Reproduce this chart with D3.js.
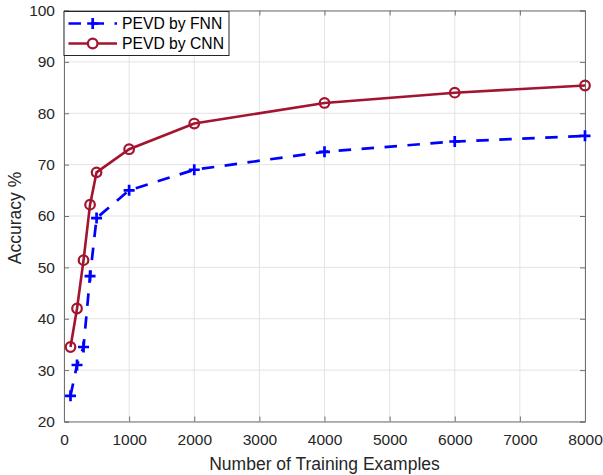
<!DOCTYPE html>
<html>
<head>
<meta charset="utf-8">
<script src="https://cdn.jsdelivr.net/npm/d3@7"></script>
<style>
  body { margin: 0; background: #fff; }
  svg { font-family: "Liberation Sans", Arial, sans-serif; }
</style>
</head>
<body>
<div id="chart"></div>
<script>
// training set sizes and accuracies
const samples = [100, 200, 300, 400, 500, 1000, 2000, 4000, 6000, 8000];
const fnnAcc = [25, 31, 34.5, 48.3, 59.6, 65, 69, 72.5, 74.5, 75.6];
const cnnAcc = [34.5, 42, 51.4, 62.2, 68.5, 73, 78, 82, 84, 85.4];
const xTicks = [0, 1000, 2000, 3000, 4000, 5000, 6000, 7000, 8000];
const yTicks = [20, 30, 40, 50, 60, 70, 80, 90, 100];

const W = 603, H = 475;
const margin = { top: 10.5, right: 18, bottom: 53.5, left: 64 };
const width = W - margin.left - margin.right;
const height = H - margin.top - margin.bottom;

const svg = d3.select('#chart').append('svg')
    .attr('width', W)
    .attr('height', H);

const g = svg.append('g')
    .attr('transform', 'translate(' + margin.left + ',' + margin.top + ')');

const x = d3.scaleLinear().domain([0, 8000]).range([0, width]);
const y = d3.scaleLinear().domain([20, 100]).range([height, 0]);

// grid
g.append('g').selectAll('line').data(xTicks).join('line')
    .attr('x1', d => x(d)).attr('x2', d => x(d))
    .attr('y1', 0).attr('y2', height)
    .attr('stroke', '#e3e3e3').attr('stroke-width', 1);
g.append('g').selectAll('line').data(yTicks).join('line')
    .attr('x1', 0).attr('x2', width)
    .attr('y1', d => y(d)).attr('y2', d => y(d))
    .attr('stroke', '#e3e3e3').attr('stroke-width', 1);

// axes (ticks inward, box on)
const axisColor = '#262626';
const fmt = d3.format('d');
const xAxis = d3.axisBottom(x).tickValues(xTicks).tickSize(-5).tickPadding(12).tickFormat(fmt);
const yAxis = d3.axisLeft(y).tickValues(yTicks).tickSize(-5).tickPadding(9).tickFormat(fmt);

const gx = g.append('g').attr('transform', 'translate(0,' + height + ')').call(xAxis);
const gy = g.append('g').call(yAxis);
const gxTop = g.append('g').call(d3.axisTop(x).tickValues(xTicks).tickSize(-5).tickFormat(''));
const gyRight = g.append('g').attr('transform', 'translate(' + width + ',0)')
    .call(d3.axisRight(y).tickValues(yTicks).tickSize(-5).tickFormat(''));

[gx, gy, gxTop, gyRight].forEach(a => {
    a.select('.domain').attr('stroke', '#707070').attr('stroke-width', 1);
    a.selectAll('.tick line').attr('stroke', '#707070').attr('stroke-width', 1);
    a.selectAll('.tick text').attr('fill', axisColor).style('font-size', '15.5px');
});

// axis labels
svg.append('text')
    .attr('x', margin.left + width / 2)
    .attr('y', 470)
    .attr('text-anchor', 'middle')
    .attr('fill', axisColor)
    .style('font-size', '17.5px')
    .text('Number of Training Examples');

svg.append('text')
    .attr('transform', 'translate(21,' + (margin.top + height / 2 + 2) + ') rotate(-90)')
    .attr('text-anchor', 'middle')
    .attr('fill', axisColor)
    .style('font-size', '17.5px')
    .text('Accuracy %');

// lines
const line = d3.line().x(d => x(d[0])).y(d => y(d[1]));
const fnnData = samples.map((s, i) => [s, fnnAcc[i]]);
const cnnData = samples.map((s, i) => [s, cnnAcc[i]]);

const blue = '#0000ff';
const red = '#a2142f';
const dash = '12.5,10.5';
const plusPath = 'M-5.5,0H5.5M0,-5.5V5.5';

g.append('path').datum(fnnData)
    .attr('d', line)
    .attr('fill', 'none')
    .attr('stroke', blue)
    .attr('stroke-width', 2.7)
    .attr('stroke-dasharray', dash);

g.append('g').selectAll('path').data(fnnData).join('path')
    .attr('transform', d => 'translate(' + x(d[0]) + ',' + y(d[1]) + ')')
    .attr('d', plusPath)
    .attr('stroke', blue)
    .attr('stroke-width', 2.7)
    .attr('fill', 'none');

g.append('path').datum(cnnData)
    .attr('d', line)
    .attr('fill', 'none')
    .attr('stroke', red)
    .attr('stroke-width', 2.6);

g.append('g').selectAll('circle').data(cnnData).join('circle')
    .attr('cx', d => x(d[0]))
    .attr('cy', d => y(d[1]))
    .attr('r', 4.8)
    .attr('fill', 'none')
    .attr('stroke', red)
    .attr('stroke-width', 2.2);

// legend
const legend = svg.append('g').attr('transform', 'translate(64,11.5)');
legend.append('rect')
    .attr('width', 165).attr('height', 44)
    .attr('fill', '#fff')
    .attr('stroke', '#262626').attr('stroke-width', 1);

const items = [
    { name: 'PEVD by FNN', color: blue, dash: dash, marker: 'plus' },
    { name: 'PEVD by CNN', color: red, dash: null, marker: 'circle' }
];
items.forEach((it, i) => {
    const row = legend.append('g').attr('transform', 'translate(0,' + (12 + i * 20) + ')');
    row.append('line')
        .attr('x1', 4.5).attr('x2', 53)
        .attr('stroke', it.color).attr('stroke-width', 2.7)
        .attr('stroke-dasharray', it.dash);
    if (it.marker === 'plus') {
        row.append('path').attr('transform', 'translate(28.7,0)')
            .attr('d', plusPath)
            .attr('stroke', it.color).attr('stroke-width', 2.7);
    } else {
        row.append('circle').attr('cx', 28.7).attr('r', 4.8)
            .attr('fill', '#fff').attr('stroke', it.color).attr('stroke-width', 2.2);
    }
    row.append('text')
        .attr('x', 58).attr('y', 5.6)
        .attr('fill', '#000')
        .style('font-size', '15.7px')
        .text(it.name);
});
</script>
</body>
</html>
